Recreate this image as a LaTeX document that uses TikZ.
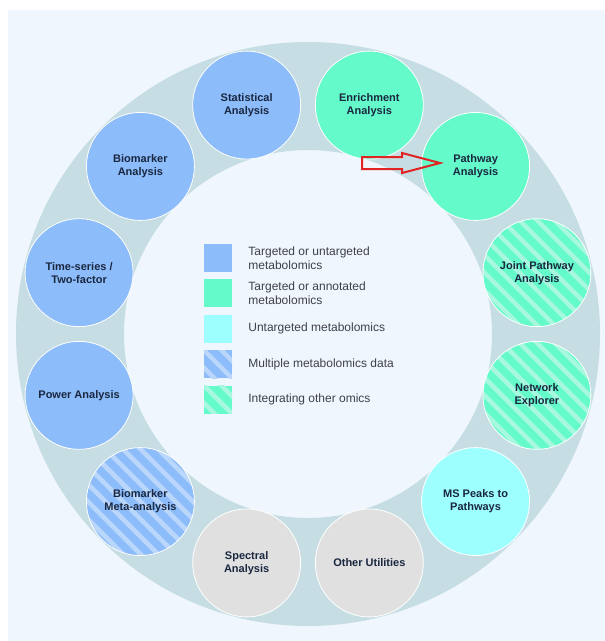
\documentclass[tikz,border=0pt]{standalone}
\usepackage{fontspec}
\setmainfont{Liberation Sans}
\usepackage{tikz}
\usetikzlibrary{positioning}
\definecolor{panel}{HTML}{EFF6FD}
\definecolor{ringcol}{HTML}{C5DDE3}
\definecolor{toolblue}{HTML}{8CBCF9}
\definecolor{toolgreen}{HTML}{64FACA}
\definecolor{toolcyan}{HTML}{9EFFFF}
\definecolor{toolgray}{HTML}{E0E0E0}
\definecolor{stripeblue}{HTML}{BAD7FB}
\definecolor{stripegreen}{HTML}{A8F7DF}
\definecolor{labelnavy}{HTML}{1A2740}
\definecolor{keygray}{HTML}{404048}
\definecolor{arrowred}{HTML}{E02424}
\tikzstyle{tool} = [circle, minimum size=108pt, inner sep=0pt, draw=white, line width=0.8pt, align=center, text=labelnavy, font=\fontsize{11}{13}\selectfont\bfseries]
\tikzstyle{key} = [rectangle, minimum size=28pt, inner sep=0pt]
\tikzstyle{keytext} = [inner sep=0pt, anchor=west, align=left, text=keygray, font=\fontsize{12}{14}\selectfont]
\tikzset{hatch/.style={path picture={%
	\foreach \k in {-9,...,9}{%
		\draw[#1,line width=4.5pt] ([xshift=\k*17.5pt-90pt,yshift=90pt]path picture bounding box.center) -- ++(180pt,-180pt);}}}}

\begin{document}
\begin{tikzpicture}[x=1pt,y=-1pt]
			\useasboundingbox (0,0) rectangle (605,641);
			\fill[panel] (8,10) rectangle (605,641);
			\fill[ringcol,even odd rule] (308,334) circle (292pt) (308,334) circle (184pt);
			\begin{scope}[shift={(308,334)}]
				\node[tool,fill=toolblue] (stat) at (105:237pt) {Statistical\\Analysis};
				\node[tool,fill=toolgreen] (enrich) at (75:237pt) {Enrichment\\Analysis};
				\node[tool,fill=toolgreen] (path) at (45:237pt) {Pathway\\Analysis};
				\node[tool,fill=toolgreen,hatch=stripegreen] (joint) at (15:237pt) {Joint Pathway\\Analysis};
				\node[tool,fill=toolgreen,hatch=stripegreen] (network) at (-15:237pt) {Network\\Explorer};
				\node[tool,fill=toolcyan] (peaks) at (-45:237pt) {MS Peaks to\\Pathways};
				\node[tool,fill=toolgray] (other) at (-75:237pt) {Other Utilities};
				\node[tool,fill=toolgray] (spectral) at (-105:237pt) {Spectral\\Analysis};
				\node[tool,fill=toolblue,hatch=stripeblue] (meta) at (-135:237pt) {Biomarker\\Meta-analysis};
				\node[tool,fill=toolblue] (power) at (-165:237pt) {Power Analysis};
				\node[tool,fill=toolblue] (time) at (165:237pt) {Time-series /\\Two-factor};
				\node[tool,fill=toolblue] (biomarker) at (135:237pt) {Biomarker\\Analysis};
			\end{scope}
			% red pointer to pathway analysis
			\draw[arrowred,line width=2pt,line join=miter] (362,157) -- (402,157) -- (402,153) -- (440,163) -- (402,173) -- (402,169) -- (362,169) -- cycle;
			% legend
			\node[key,fill=toolblue] (k1) at (218,258) {};
			\node[key,fill=toolgreen,below=7pt of k1] (k2) {};
			\node[key,fill=toolcyan,below=7pt of k2] (k3) {};
			\node[key,fill=toolblue,hatch=stripeblue,below=7pt of k3] (k4) {};
			\node[key,fill=toolgreen,hatch=stripegreen,below=7pt of k4] (k5) {};
			\node[keytext,right=16pt of k1] (t1) {Targeted or untargeted\\metabolomics};
			\node[keytext,right=16pt of k2] (t2) {Targeted or annotated\\metabolomics};
			\node[keytext,right=16pt of k3] (t3) {Untargeted metabolomics};
			\node[keytext,right=16pt of k4] (t4) {Multiple metabolomics data};
			\node[keytext,right=16pt of k5] (t5) {Integrating other omics};
		\end{tikzpicture}
\end{document}
